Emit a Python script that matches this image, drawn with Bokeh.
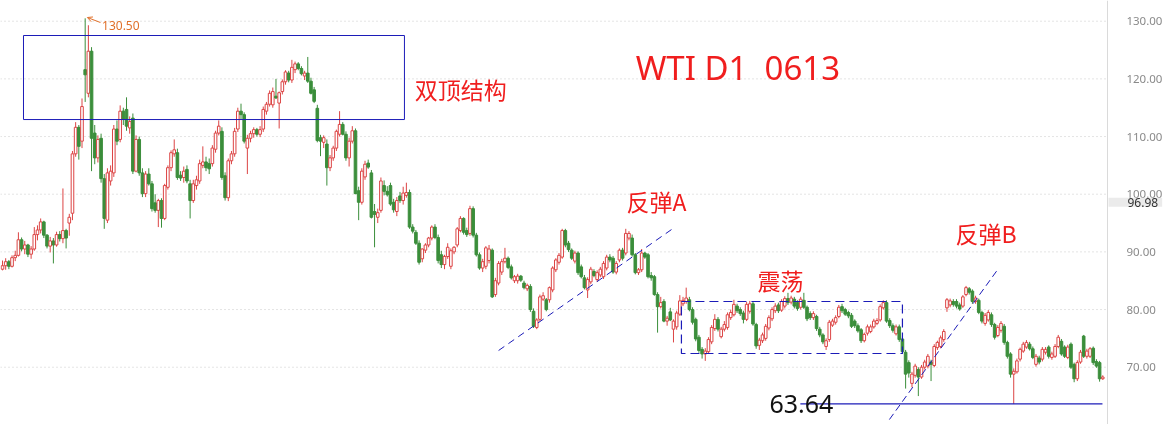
import numpy as np
from bokeh.plotting import figure
from bokeh.models import Range1d, FixedTicker, PrintfTickFormatter, Label, Arrow, OpenHead, ColumnDataSource
from bokeh.embed import file_html
from bokeh.resources import INLINE

# ---------------- data (WTI D1) ----------------
opens = [
 87.0, 87.6, 88.3, 87.5, 89.0, 89.4, 92.1, 90.5, 91.2, 89.6,
 90.5, 93.0, 93.8, 95.2, 92.9, 91.0, 91.9, 91.2, 93.0, 92.3,
 93.7, 95.0, 96.7, 107.0, 111.6, 109.2, 121.6, 117.5, 124.8, 110.6,
 106.3, 109.7, 102.7, 95.5, 102.3, 103.7, 111.3, 109.5, 114.4, 114.7,
 111.5, 113.2, 104.0, 109.5, 103.7, 100.1, 103.5, 101.8, 98.5, 97.2,
 98.9, 95.8, 101.2, 104.6, 107.0, 107.2, 103.3, 102.9, 104.3, 101.8,
 98.9, 101.5, 102.3, 105.0, 105.6, 105.3, 105.3, 107.8, 110.6, 110.9,
 103.2, 99.4, 105.8, 107.0, 111.3, 114.4, 113.8, 108.0, 109.7, 110.5,
 111.2, 110.4, 111.3, 114.4, 115.6, 115.5, 117.0, 115.8, 117.8, 119.5,
 121.0, 119.8, 121.6, 122.6, 121.8, 120.5, 121.0, 119.6, 118.1, 114.9,
 109.8, 109.0, 108.7, 104.6, 106.3, 108.0, 110.4, 112.1, 110.4, 106.3,
 109.2, 111.0, 100.6, 98.6, 103.0, 105.4, 103.7, 97.0, 96.0, 97.2,
 101.5, 100.5, 101.5, 98.6, 97.0, 99.7, 98.9, 99.8, 100.3, 94.3,
 93.4, 91.5, 88.8, 90.3, 91.2, 92.4, 94.3, 92.5, 89.5, 87.8,
 89.2, 87.5, 90.0, 91.2, 93.7, 95.8, 93.7, 93.2, 97.5, 92.9,
 89.5, 87.2, 87.5, 88.5, 90.3, 82.6, 84.6, 86.5, 88.3, 88.9,
 87.4, 85.0, 85.0, 85.8, 84.6, 83.6, 84.0, 79.7, 76.9, 78.3,
 81.8, 81.7, 81.7, 83.4, 86.9, 88.2, 89.1, 93.7, 91.5, 90.3,
 88.4, 89.8, 87.4, 85.5, 83.4, 84.8, 86.6, 85.2, 86.0, 85.7,
 87.2, 89.1, 88.9, 86.5, 88.6, 90.3, 89.8, 92.4, 92.4, 89.5,
 86.4, 86.9, 89.8, 89.5, 85.9, 85.7, 82.6, 80.5, 81.4, 78.0,
 79.6, 76.6, 77.0, 79.2, 81.0, 81.4, 81.7, 80.0, 78.3, 75.2,
 73.1, 72.3, 72.7, 74.4, 76.7, 78.3, 75.3, 76.6, 76.9, 78.6,
 79.1, 80.6, 80.0, 79.4, 78.3, 79.7, 81.0, 77.4, 73.8, 74.6,
 75.0, 76.8, 78.4, 79.8, 80.8, 79.9, 80.6, 81.9, 81.3, 81.8,
 81.2, 80.4, 81.6, 80.4, 79.3, 78.6, 78.8, 76.6, 75.6, 73.6,
 74.8, 77.3, 77.8, 78.8, 80.5, 80.0, 79.5, 79.0, 78.0, 77.2,
 76.5, 74.6, 75.9, 76.2, 77.0, 77.6, 78.2, 80.3, 81.2, 78.1,
 77.2, 75.8, 77.0, 74.9, 72.6, 70.8, 67.2, 68.6, 69.6, 68.3,
 70.0, 70.2, 70.9, 70.3, 73.4, 73.6, 74.8, 80.3, 80.8, 81.4,
 81.4, 80.8, 80.6, 82.6, 83.6, 83.2, 81.4, 81.6, 79.5, 77.6,
 78.2, 79.1, 77.4, 75.5, 76.4, 77.1, 74.3, 72.3, 68.8, 69.2,
 71.4, 72.8, 73.5, 74.0, 73.2, 70.5, 71.6, 71.4, 72.6, 73.5,
 71.7, 71.9, 73.6, 74.5, 73.5, 71.7, 74.0, 70.5, 68.0, 70.9,
 75.4, 71.9, 71.9, 73.3, 71.0, 70.8, 68.0,
]
highs = [
 88.5, 88.9, 88.6, 89.4, 90.2, 93.4, 92.5, 91.9, 91.4, 91.0,
 94.3, 94.6, 95.8, 95.4, 93.1, 92.6, 92.4, 93.5, 93.6, 101.0,
 94.0, 96.6, 107.5, 112.5, 112.0, 116.6, 130.5, 129.3, 125.5, 112.0,
 110.2, 110.5, 103.5, 104.5, 105.0, 112.0, 112.8, 115.4, 115.0, 116.8,
 113.5, 114.0, 110.2, 110.0, 104.5, 104.0, 104.5, 102.3, 100.0, 99.2,
 99.3, 101.8, 105.0, 107.6, 109.5, 107.9, 104.0, 104.8, 105.0, 102.5,
 102.5, 103.2, 106.0, 108.3, 106.5, 106.2, 108.5, 111.0, 112.8, 111.6,
 103.8, 106.2, 107.5, 111.5, 115.0, 115.7, 114.2, 110.3, 111.0, 111.6,
 111.5, 111.8, 115.2, 116.0, 118.0, 118.5, 120.0, 117.8, 119.9, 121.5,
 121.4, 123.3, 123.0, 122.9, 122.2, 121.4, 123.8, 120.2, 118.6, 115.5,
 110.3, 110.2, 109.5, 106.8, 108.4, 111.2, 114.4, 112.5, 110.9, 109.8,
 111.8, 111.4, 101.3, 104.5, 105.8, 106.0, 104.2, 98.3, 97.5, 102.9,
 102.4, 101.4, 102.0, 99.2, 99.5, 100.4, 101.3, 102.0, 100.8, 94.8,
 93.8, 92.0, 90.6, 91.5, 92.6, 94.6, 94.8, 93.0, 90.2, 89.5,
 91.5, 90.6, 91.0, 94.3, 96.2, 96.0, 94.2, 98.0, 97.9, 93.3,
 89.9, 88.8, 91.0, 91.2, 90.6, 85.5, 88.4, 88.8, 90.7, 89.2,
 87.8, 86.0, 86.2, 86.0, 85.0, 84.5, 84.4, 80.2, 78.5, 82.6,
 83.0, 82.0, 84.0, 87.5, 88.9, 89.8, 94.0, 94.0, 91.9, 90.6,
 90.2, 90.1, 87.8, 86.0, 85.6, 87.4, 87.0, 86.8, 87.4, 88.4,
 89.5, 89.6, 89.3, 88.4, 90.6, 90.7, 94.0, 93.6, 93.0, 89.8,
 87.2, 90.5, 90.0, 89.8, 86.5, 86.0, 83.0, 82.2, 81.8, 78.9,
 80.3, 78.3, 79.8, 82.5, 82.2, 83.8, 82.2, 80.4, 78.6, 75.6,
 73.5, 73.3, 75.2, 77.3, 79.2, 78.7, 77.0, 78.0, 79.5, 80.0,
 81.7, 81.0, 80.4, 79.8, 81.3, 81.5, 81.4, 77.7, 75.1, 76.0,
 77.5, 79.0, 80.4, 81.1, 81.2, 81.8, 82.3, 82.9, 82.4, 82.2,
 81.6, 82.2, 82.9, 80.7, 79.7, 79.7, 79.1, 77.0, 75.9, 75.0,
 78.2, 78.4, 79.0, 80.8, 81.0, 80.3, 79.8, 79.4, 78.3, 77.6,
 76.8, 76.0, 77.4, 77.4, 78.4, 78.5, 80.9, 81.6, 81.6, 78.5,
 77.6, 77.4, 77.4, 75.3, 73.0, 71.2, 69.2, 70.6, 70.0, 70.4,
 71.3, 72.3, 71.3, 74.0, 74.6, 75.5, 76.6, 82.0, 81.9, 81.8,
 81.8, 81.2, 82.5, 84.1, 83.9, 83.5, 82.4, 81.9, 79.8, 79.4,
 79.9, 79.5, 77.7, 77.3, 78.0, 77.5, 74.6, 72.6, 69.8, 71.5,
 73.4, 74.4, 74.7, 74.4, 73.6, 72.3, 72.0, 73.5, 73.5, 73.8,
 72.7, 74.0, 75.6, 74.9, 73.8, 73.9, 74.3, 70.8, 71.2, 73.0,
 75.6, 73.2, 73.5, 73.6, 71.4, 71.1, 68.6,
]
lows = [
 86.8, 86.9, 87.0, 87.3, 88.4, 89.2, 90.1, 89.6, 89.1, 88.8,
 90.2, 92.0, 93.2, 92.4, 90.6, 89.9, 88.0, 90.9, 91.8, 91.5,
 90.6, 92.8, 95.5, 106.5, 106.0, 108.0, 116.0, 116.8, 104.0, 105.2,
 105.5, 102.0, 94.0, 95.0, 101.5, 103.0, 108.5, 109.0, 112.0, 111.0,
 110.5, 103.5, 103.8, 103.2, 99.5, 99.5, 101.5, 97.0, 96.8, 94.3,
 94.2, 95.5, 100.8, 104.0, 106.5, 102.5, 102.3, 102.0, 101.9, 95.8,
 98.5, 100.8, 101.8, 104.5, 104.0, 103.5, 104.8, 107.2, 110.2, 102.5,
 98.9, 98.8, 105.2, 106.5, 110.8, 113.0, 108.8, 103.5, 109.0, 109.8,
 110.0, 109.9, 110.8, 113.8, 115.2, 115.0, 116.5, 111.4, 117.3, 119.0,
 119.4, 119.3, 121.0, 121.5, 120.6, 119.8, 119.3, 117.3, 115.8, 109.0,
 106.6, 108.0, 101.5, 104.0, 105.8, 107.5, 110.0, 110.2, 105.8, 104.8,
 108.8, 100.0, 95.5, 98.2, 102.5, 104.4, 95.8, 90.8, 95.0, 96.8,
 99.8, 99.6, 98.0, 96.8, 96.2, 98.5, 98.2, 99.4, 94.0, 93.2,
 91.2, 87.8, 88.2, 89.8, 90.8, 92.0, 92.2, 88.0, 87.2, 87.0,
 88.8, 87.0, 89.6, 90.8, 93.4, 93.0, 92.6, 92.8, 92.5, 89.2,
 86.9, 86.5, 87.0, 88.0, 82.0, 82.2, 84.2, 86.0, 88.0, 87.0,
 85.2, 84.6, 84.5, 84.8, 83.5, 83.2, 79.6, 76.8, 76.6, 78.0,
 81.5, 79.7, 81.2, 83.0, 86.5, 87.8, 88.8, 90.8, 90.0, 88.6,
 88.0, 86.0, 85.4, 83.5, 82.0, 84.4, 85.6, 84.8, 85.6, 85.3,
 86.8, 88.2, 86.2, 86.1, 88.2, 88.5, 89.4, 92.0, 89.2, 86.1,
 86.0, 86.5, 88.8, 85.4, 85.0, 82.4, 76.0, 80.2, 77.8, 77.2,
 78.0, 74.3, 76.5, 78.9, 80.6, 81.0, 79.7, 77.4, 74.5, 72.5,
 71.5, 71.1, 72.3, 74.0, 76.3, 76.2, 75.0, 76.2, 76.5, 78.2,
 78.8, 79.4, 78.9, 77.6, 78.0, 79.3, 77.2, 73.2, 73.0, 74.2,
 74.6, 76.4, 78.0, 79.4, 79.4, 79.6, 80.2, 80.8, 80.9, 80.2,
 79.8, 80.0, 80.1, 78.0, 78.2, 78.2, 76.3, 75.2, 74.0, 73.0,
 74.4, 77.0, 77.4, 78.5, 79.4, 78.9, 78.5, 76.8, 76.8, 76.0,
 74.2, 74.3, 75.5, 75.9, 76.7, 77.3, 77.9, 80.0, 77.7, 76.8,
 76.0, 75.5, 74.4, 72.3, 66.3, 68.2, 66.5, 68.2, 65.0, 68.0,
 69.6, 69.8, 67.6, 70.0, 73.0, 73.3, 74.4, 79.6, 80.4, 80.5,
 80.2, 79.8, 80.3, 82.3, 82.6, 81.0, 81.0, 79.2, 77.6, 77.2,
 77.9, 77.0, 74.8, 75.2, 76.0, 73.9, 71.5, 68.2, 63.64, 68.9,
 71.0, 72.5, 73.2, 72.9, 71.4, 70.1, 70.5, 71.0, 72.2, 71.5,
 71.3, 71.6, 73.3, 72.0, 71.6, 71.4, 69.7, 67.4, 67.6, 70.6,
 71.6, 71.5, 71.6, 70.4, 69.9, 67.5, 67.8,
]
closes = [
 87.6, 88.3, 87.5, 89.0, 89.4, 92.1, 90.5, 91.2, 89.6, 90.5,
 93.0, 93.8, 95.2, 92.9, 91.0, 91.9, 91.2, 93.0, 92.3, 93.7,
 92.4, 96.0, 107.0, 111.6, 108.3, 115.2, 120.7, 124.8, 109.7, 106.3,
 109.5, 102.7, 95.8, 103.7, 104.0, 111.3, 109.2, 114.4, 113.0, 111.8,
 112.6, 104.0, 109.5, 103.7, 100.1, 103.5, 101.8, 97.5, 97.2, 98.9,
 95.8, 101.5, 104.6, 107.2, 107.7, 102.9, 102.8, 104.0, 102.3, 98.9,
 101.8, 102.5, 105.3, 105.6, 104.6, 104.4, 108.0, 110.6, 111.8, 102.9,
 99.4, 105.8, 107.0, 110.9, 114.4, 113.8, 109.2, 109.7, 110.5, 111.2,
 110.4, 111.2, 114.7, 115.6, 117.5, 117.8, 116.7, 117.6, 119.5, 121.2,
 119.8, 122.0, 122.6, 121.8, 120.9, 121.0, 119.6, 117.5, 116.1, 109.3,
 109.2, 109.8, 104.6, 106.3, 108.0, 110.9, 112.1, 110.4, 106.3, 109.2,
 111.0, 100.1, 98.6, 104.0, 105.2, 104.7, 96.0, 96.5, 96.8, 102.3,
 100.5, 99.9, 98.3, 97.3, 98.9, 98.9, 100.2, 100.3, 94.3, 93.6,
 91.5, 88.2, 90.5, 91.2, 92.4, 94.3, 92.5, 88.5, 87.8, 89.2,
 90.8, 90.2, 90.8, 94.0, 95.8, 93.4, 93.0, 97.5, 92.9, 89.5,
 87.2, 88.3, 90.7, 90.5, 82.2, 85.0, 88.0, 88.3, 88.9, 87.3,
 85.5, 85.7, 85.8, 85.1, 83.8, 84.2, 80.0, 77.1, 78.2, 82.2,
 82.4, 80.0, 83.8, 87.2, 88.6, 89.4, 93.7, 91.2, 90.4, 88.9,
 89.8, 86.4, 85.7, 83.8, 85.2, 87.0, 85.9, 86.4, 87.0, 88.0,
 89.1, 88.6, 86.5, 88.0, 90.3, 88.9, 93.2, 93.2, 89.5, 86.4,
 86.9, 89.8, 89.1, 85.7, 85.5, 82.6, 80.5, 81.2, 78.0, 78.5,
 78.2, 78.0, 79.4, 81.5, 81.6, 82.0, 80.0, 77.8, 74.9, 72.9,
 72.3, 72.8, 74.8, 76.9, 78.3, 76.6, 76.6, 77.4, 79.1, 79.5,
 80.9, 79.8, 79.3, 78.3, 80.9, 81.0, 77.5, 73.7, 74.7, 75.6,
 77.1, 78.6, 80.0, 80.6, 79.8, 81.4, 81.9, 81.2, 82.0, 80.6,
 80.2, 81.8, 80.4, 78.4, 78.6, 79.3, 76.7, 75.6, 74.4, 74.6,
 77.8, 78.0, 78.6, 80.4, 79.8, 79.2, 78.9, 77.1, 77.2, 76.3,
 74.6, 75.7, 77.0, 77.0, 78.0, 78.1, 80.5, 81.2, 78.0, 77.2,
 76.4, 77.0, 74.8, 72.7, 68.8, 69.0, 68.8, 70.2, 68.3, 70.0,
 70.9, 71.9, 70.5, 73.6, 74.3, 75.1, 76.2, 81.7, 81.5, 80.9,
 80.6, 80.1, 82.2, 83.8, 83.0, 81.4, 82.0, 79.5, 78.0, 79.0,
 79.5, 77.4, 75.2, 76.9, 77.6, 74.3, 71.9, 68.8, 69.3, 71.1,
 73.1, 74.0, 74.3, 73.2, 71.7, 71.9, 70.9, 73.1, 73.1, 71.9,
 72.3, 73.6, 75.2, 72.3, 71.9, 73.5, 70.0, 68.0, 70.8, 72.6,
 71.9, 72.8, 73.2, 70.8, 70.2, 68.0, 68.3,
]

y_ticks = [70, 80, 90, 100, 110, 120, 130]
peak_text = "130.50"
last_text = "96.98"
support_level = 63.64
support_text = "63.64"
title_text = "WTI D1 \u00a00613"
notes = ["双顶结构", "反弹A", "震荡", "反弹B"]

# ---------------- figure ----------------
RED = "#dc4444"
GREEN = "#3b8e3b"
BLUE = "#1c1cb8"
TXT_RED = "#f01e1e"

AXIS_X = 347.48      # data x of the price-scale line (page x 1107)
GRID_END = 346.9

p = figure(width=1166, height=424, output_backend="svg", toolbar_location=None,
           x_range=Range1d(-0.63, 366.04), y_range=Range1d(60.07, 133.59),
           x_axis_location=None, y_axis_location="right",
           min_border_left=0, min_border_top=0, min_border_bottom=0, min_border_right=0,
           background_fill_color="white", border_fill_color="white",
           outline_line_color=None)
p.styles = {"position": "fixed", "left": "0px", "top": "0px"}

ax = p.yaxis[0]
ax.fixed_location = AXIS_X
ax.ticker = FixedTicker(ticks=y_ticks)
ax.formatter = PrintfTickFormatter(format="%.2f")
ax.major_label_text_color = "#8a8a8a"
ax.major_label_text_font = "Noto Sans"
ax.major_label_text_font_size = "11.5px"
ax.major_tick_line_color = None
ax.minor_tick_line_color = None
ax.axis_line_color = "#dadada"
ax.major_label_standoff = 13

p.xgrid.visible = False
p.ygrid.visible = False
p.segment(x0=-0.63, x1=GRID_END, y0=y_ticks, y1=y_ticks,
          line_color="#c9c9c9", line_width=1, line_dash="1 3")

o = np.array(opens); c = np.array(closes)
inc = c >= o
src = ColumnDataSource(dict(
    x=np.arange(len(closes)), h=highs, l=lows,
    top=np.maximum(o, c), bottom=np.minimum(o, c),
    col=np.where(inc, RED, GREEN), fill=np.where(inc, "white", GREEN)))

p.segment(x0="x", y0="l", x1="x", y1="h", line_color="col", line_width=1, source=src)
p.vbar(x="x", width=0.82, top="top", bottom="bottom", fill_color="fill",
       line_color="col", line_width=1, source=src)

# drawn annotations
p.quad(left=[6.6], right=[126.4], top=[127.52], bottom=[112.95],
       fill_color=None, line_color=BLUE, line_width=1)
p.quad(left=[213.5], right=[283.0], top=[81.40], bottom=[72.38],
       fill_color=None, line_color=BLUE, line_width=1.2, line_dash="9 5")
p.line([156.0, 210.4], [72.9, 93.88], line_color=BLUE, line_width=1, line_dash="7 5")
p.line([278.9, 313.2], [60.93, 87.12], line_color=BLUE, line_width=1, line_dash="7 4")
p.line([250.9, 345.9], [support_level, support_level], line_color=BLUE, line_width=1.2)

def lab(x, y, text, size, color, font):
    p.add_layout(Label(x=x, y=y, text=text, text_font=font, text_font_size=size,
                       text_color=color, text_baseline="middle", text_align="left"))

lab(199.1, 121.97, title_text, "33px", TXT_RED, "Noto Sans")
lab(129.6, 118.33, notes[0], "23px", TXT_RED, "Noto Sans CJK SC")
lab(196.2, 98.91, notes[1], "23px", TXT_RED, "Noto Sans CJK SC")
lab(237.4, 85.04, notes[2], "23px", TXT_RED, "Noto Sans CJK SC")
lab(299.7, 93.36, notes[3], "23px", TXT_RED, "Noto Sans CJK SC")
lab(241.2, support_level, support_text, "25px", "#111111", "Noto Sans")
lab(31.3, 129.34, peak_text, "12px", "#e0702a", "Noto Sans")

p.add_layout(Arrow(end=OpenHead(size=5, line_color="#e0702a", line_width=1),
                   x_start=30.8, y_start=129.77, x_end=26.7, y_end=130.64,
                   line_color="#e0702a", line_width=1))

# last-price tag on the price scale
p.add_layout(Label(x=347.8, y=98.61, text=last_text, text_font="Noto Sans",
                   text_font_size="12px", text_color="#333333",
                   text_baseline="middle", text_align="left",
                   background_fill_color="#ebebeb",
                   padding=dict(left=19, right=4, top=0, bottom=0)))

open("out.html", "w").write(file_html(p, INLINE))
